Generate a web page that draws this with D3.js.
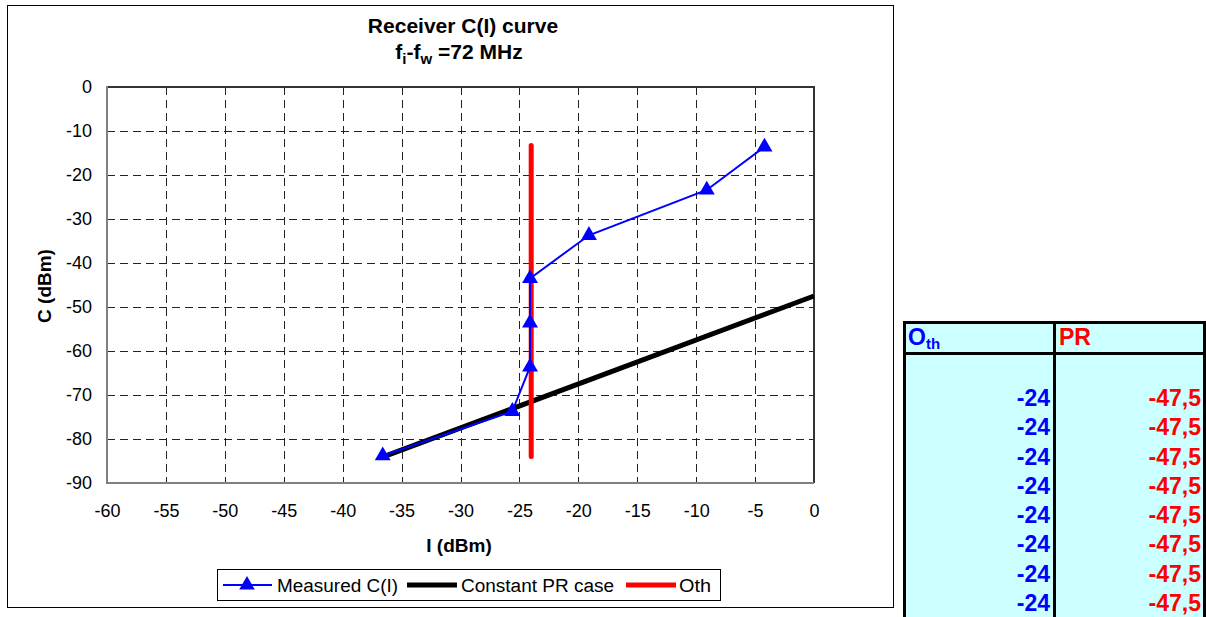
<!DOCTYPE html>
<html>
<head>
<meta charset="utf-8">
<script src="https://cdn.jsdelivr.net/npm/d3@7/dist/d3.min.js"></script>
<style>
  html, body { margin: 0; padding: 0; background: #fff; }
  svg text { font-family: Arial, "Liberation Sans", sans-serif; }
</style>
</head>
<body>
<svg id="chart" width="1206" height="617"></svg>
<script>
// ---- data ----
const xTicks = [-60, -55, -50, -45, -40, -35, -30, -25, -20, -15, -10, -5, 0];
const yTicks = [0, -10, -20, -30, -40, -50, -60, -70, -80, -90];
const measuredI = [-36.6, -25.6, -24.1, -24.1, -24.1, -19.1, -9.1, -4.2];
const measuredC = [-83.8, -73.7, -63.6, -53.6, -43.5, -33.7, -23.4, -13.6];
const constPRI = [-36.4, 0];
const constPRC = [-83.9, -47.5];
const othI = [-24, -24];
const othC = [-13.3, -84];
const seriesNames = ["Measured C(I)", "Constant PR case", "Oth"];
const tableOth = [-24, -24, -24, -24, -24, -24, -24, -24];
const tablePR = [-47.5, -47.5, -47.5, -47.5, -47.5, -47.5, -47.5, -47.5];

const svg = d3.select("#chart");
const FF = "Arial, 'Liberation Sans', sans-serif";

// outer chart frame
svg.append("rect").attr("x", 7.5).attr("y", 5.5).attr("width", 886).attr("height", 602)
  .attr("fill", "#fff").attr("stroke", "#000").attr("stroke-width", 1);

const L = 107, R = 814, T = 87, B = 483;
const x = d3.scaleLinear().domain([-60, 0]).range([L, R]);
const y = d3.scaleLinear().domain([-90, 0]).range([B, T]);

// grid
const g = svg.append("g");
g.selectAll(".vg").data(xTicks.filter(d => d !== -60 && d !== 0)).join("line")
  .attr("x1", d => Math.round(x(d)) + 0.5).attr("x2", d => Math.round(x(d)) + 0.5)
  .attr("y1", T).attr("y2", B)
  .attr("stroke", "#222").attr("stroke-width", 1).attr("stroke-dasharray", "8,5");
g.selectAll(".hg").data(yTicks.filter(d => d !== 0 && d !== -90)).join("line")
  .attr("y1", d => Math.round(y(d)) + 0.5).attr("y2", d => Math.round(y(d)) + 0.5)
  .attr("x1", L).attr("x2", R)
  .attr("stroke", "#222").attr("stroke-width", 1).attr("stroke-dasharray", "8,5");

// plot border
svg.append("line").attr("x1", L).attr("x2", R + 1).attr("y1", T).attr("y2", T).attr("stroke", "#333").attr("stroke-width", 2);
svg.append("line").attr("x1", R).attr("x2", R).attr("y1", T).attr("y2", B).attr("stroke", "#333").attr("stroke-width", 2);
svg.append("line").attr("x1", L).attr("x2", L).attr("y1", T - 1).attr("y2", B + 1).attr("stroke", "#808080").attr("stroke-width", 2);
svg.append("line").attr("x1", L).attr("x2", R).attr("y1", B).attr("y2", B).attr("stroke", "#808080").attr("stroke-width", 2);

// axes (labels via d3 axes, domain/ticks hidden)
const fmtTick = d => String(d);
const xAxis = svg.append("g").attr("transform", `translate(0,${B})`)
  .call(d3.axisBottom(x).tickValues(xTicks).tickSize(0).tickPadding(0).tickFormat(fmtTick));
xAxis.select(".domain").remove();
xAxis.selectAll("text").attr("font-size", 18).attr("fill", "#000")
  .attr("dy", null).attr("y", 34).attr("font-family", FF);

const yAxis = svg.append("g").attr("transform", `translate(${L},0)`)
  .call(d3.axisLeft(y).tickValues(yTicks).tickSize(0).tickPadding(15).tickFormat(fmtTick));
yAxis.select(".domain").remove();
yAxis.selectAll("text").attr("font-size", 18).attr("fill", "#000").attr("font-family", FF);

// titles
svg.append("text").attr("x", 463).attr("y", 33).attr("text-anchor", "middle")
  .attr("font-size", 21).attr("font-weight", "bold").text("Receiver C(I) curve");
const t2 = svg.append("text").attr("x", 459).attr("y", 59).attr("text-anchor", "middle")
  .attr("font-size", 21).attr("font-weight", "bold");
t2.append("tspan").text("f");
t2.append("tspan").attr("font-size", 15).attr("dy", 5).text("i");
t2.append("tspan").attr("dy", -5).text("-f");
t2.append("tspan").attr("font-size", 15).attr("dy", 5).text("w");
t2.append("tspan").attr("dy", -5).text(" =72 MHz");

svg.append("text").attr("x", 459).attr("y", 552).attr("text-anchor", "middle")
  .attr("font-size", 19).attr("font-weight", "bold").text("I (dBm)");
svg.append("text").attr("transform", "translate(51,286) rotate(-90)").attr("text-anchor", "middle")
  .attr("font-size", 19).attr("font-weight", "bold").text("C (dBm)");

// series
const line = d3.line().x(d => x(d[0])).y(d => y(d[1]));
const constPts = constPRI.map((v, i) => [v, constPRC[i]]);
const othPts = othI.map((v, i) => [v, othC[i]]);
const measPts = measuredI.map((v, i) => [v, measuredC[i]]);

svg.append("path").datum(constPts).attr("d", line).attr("fill", "none")
  .attr("stroke", "#000").attr("stroke-width", 5).attr("stroke-linecap", "butt");
svg.append("path").datum(othPts).attr("d", line).attr("fill", "none")
  .attr("stroke", "#ff0000").attr("stroke-width", 5).attr("stroke-linecap", "round");
svg.append("path").datum(measPts).attr("d", line).attr("fill", "none")
  .attr("stroke", "#0000ff").attr("stroke-width", 2);
const tri = d3.symbol().type(d3.symbolTriangle).size(110);
svg.selectAll(".mk").data(measPts).join("path")
  .attr("transform", d => `translate(${x(d[0])},${y(d[1])})`)
  .attr("d", tri).attr("fill", "#0000ff");

// legend
const lg = svg.append("g");
lg.append("rect").attr("x", 217.5).attr("y", 569.5).attr("width", 503).attr("height", 31)
  .attr("fill", "#fff").attr("stroke", "#000").attr("stroke-width", 1);
const ly = 585;
lg.append("line").attr("x1", 223).attr("x2", 272).attr("y1", ly).attr("y2", ly).attr("stroke", "#0000ff").attr("stroke-width", 2);
lg.append("path").attr("transform", `translate(247,${ly})`).attr("d", d3.symbol().type(d3.symbolTriangle).size(105)).attr("fill", "#0000ff");
lg.append("line").attr("x1", 407).attr("x2", 457).attr("y1", ly).attr("y2", ly).attr("stroke", "#000").attr("stroke-width", 5);
lg.append("line").attr("x1", 626).attr("x2", 676).attr("y1", ly).attr("y2", ly).attr("stroke", "#ff0000").attr("stroke-width", 5);
const lx = [277, 461, 679];
const lw = [121, 153, 32];
seriesNames.forEach((n, i) => {
  lg.append("text").attr("x", lx[i]).attr("y", ly + 6.5).attr("font-size", 18)
    .attr("textLength", lw[i]).attr("lengthAdjust", "spacingAndGlyphs").text(n);
});

// table
const tb = svg.append("g");
tb.append("rect").attr("x", 903).attr("y", 321).attr("width", 303).attr("height", 296).attr("fill", "#ccffff");
const bw = 3;
tb.append("line").attr("x1", 904.5).attr("x2", 904.5).attr("y1", 321).attr("y2", 617).attr("stroke", "#000").attr("stroke-width", bw);
tb.append("line").attr("x1", 1054.5).attr("x2", 1054.5).attr("y1", 321).attr("y2", 617).attr("stroke", "#000").attr("stroke-width", bw);
tb.append("line").attr("x1", 1204.5).attr("x2", 1204.5).attr("y1", 321).attr("y2", 617).attr("stroke", "#000").attr("stroke-width", bw);
tb.append("line").attr("x1", 903).attr("x2", 1206).attr("y1", 322.5).attr("y2", 322.5).attr("stroke", "#000").attr("stroke-width", bw);
tb.append("line").attr("x1", 903).attr("x2", 1206).attr("y1", 353.5).attr("y2", 353.5).attr("stroke", "#000").attr("stroke-width", bw);

const h1 = tb.append("text").attr("x", 908).attr("y", 345).attr("font-size", 23).attr("font-weight", "bold").attr("fill", "#0000ff");
h1.append("tspan").text("O");
h1.append("tspan").attr("font-size", 15).attr("dy", 4).text("th");
tb.append("text").attr("x", 1059).attr("y", 345).attr("font-size", 23).attr("font-weight", "bold").attr("fill", "#ff0000").text("PR");

const fmtPR = d => String(d).replace(".", ",");
const rowY = d3.scaleLinear().domain([0, 7]).range([406, 611]);
tb.selectAll(".oth").data(tableOth).join("text")
  .attr("x", 1050).attr("y", (d, i) => rowY(i)).attr("text-anchor", "end")
  .attr("font-size", 23).attr("font-weight", "bold").attr("fill", "#0000ff").text(d => String(d));
tb.selectAll(".pr").data(tablePR).join("text")
  .attr("x", 1201).attr("y", (d, i) => rowY(i)).attr("text-anchor", "end")
  .attr("font-size", 23).attr("font-weight", "bold").attr("fill", "#ff0000").text(fmtPR);
</script>
</body>
</html>
